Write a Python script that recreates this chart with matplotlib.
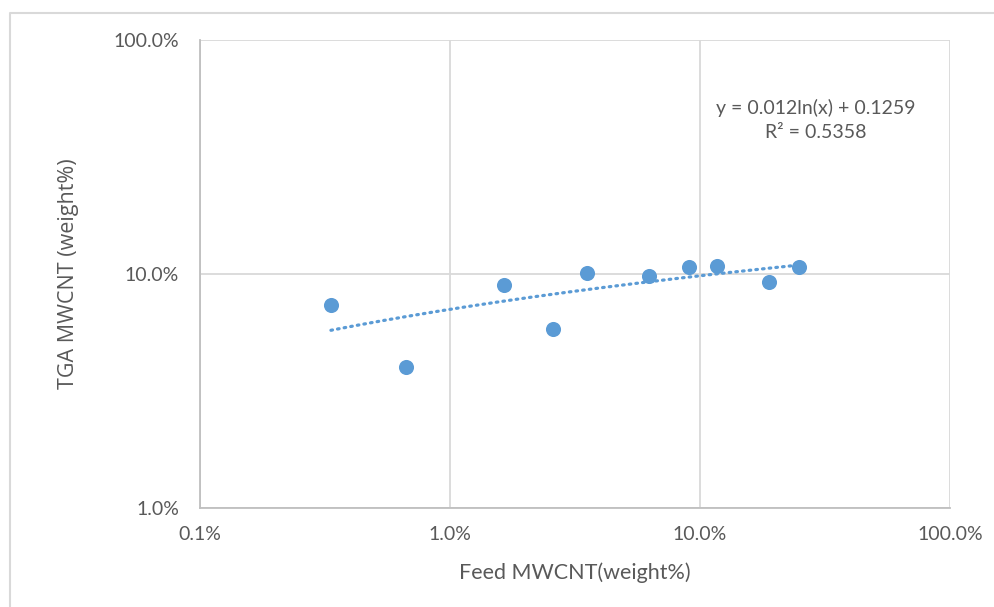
import numpy as np
import matplotlib
matplotlib.use("Agg")
import matplotlib.pyplot as plt
from matplotlib.lines import Line2D
from matplotlib.ticker import FuncFormatter, NullLocator

# data (fractions, shown as percent)
feed = [0.00334, 0.00667, 0.0164, 0.0258, 0.0353, 0.0625, 0.0904, 0.117, 0.189, 0.249]
tga = [0.0737, 0.0401, 0.0897, 0.0582, 0.101, 0.098, 0.107, 0.108, 0.0924, 0.107]

# logarithmic trendline as printed on the chart
trend_a = 0.012
trend_b = 0.1259
trend_r2 = 0.5358

blue = "#5B9BD5"
grey_text = "#595959"

fig = plt.figure(figsize=(9.95, 6.07), dpi=100)
ax = fig.add_axes([200 / 995, 1 - 508 / 607, 750 / 995, 468 / 607])

ax.set_xscale("log")
ax.set_yscale("log")
ax.set_xlim(0.001, 1)
ax.set_ylim(0.01, 1)

ax.scatter(feed, tga, s=118, color=blue, zorder=3, linewidths=0)

xs = np.geomspace(min(feed), max(feed), 200)
ax.plot(xs, trend_a * np.log(xs) + trend_b, color=blue, lw=2.3,
        linestyle=(0, (0.5, 1.6)), dash_capstyle="round", zorder=2)

pct = FuncFormatter(lambda v, p: "{:.1f}%".format(v * 100))
ax.xaxis.set_major_formatter(pct)
ax.yaxis.set_major_formatter(pct)
ax.xaxis.set_minor_locator(NullLocator())
ax.yaxis.set_minor_locator(NullLocator())
ax.set_xticks([0.001, 0.01, 0.1, 1])
ax.set_yticks([0.01, 0.1, 1])

ax.grid(True, color="#D9D9D9", lw=1.3)
ax.set_axisbelow(True)
for s in ["top", "right"]:
    ax.spines[s].set_visible(False)
for s in ["left", "bottom"]:
    ax.spines[s].set_color("#BFBFBF")
    ax.spines[s].set_linewidth(1.3)

ax.tick_params(length=0, labelsize=14, labelcolor=grey_text)
ax.tick_params(axis="x", pad=13)
ax.tick_params(axis="y", pad=15)
for lab in ax.get_xticklabels() + ax.get_yticklabels():
    lab.set_family("Lato")

ax.set_xlabel("Feed MWCNT(weight%)", family="Lato", fontsize=15.5,
              color=grey_text)
ax.set_ylabel("TGA MWCNT (weight%)", family="Open Sans", fontsize=15.5,
              color=grey_text)
ax.xaxis.set_label_coords(375 / 750, -(573 - 508) / 468)
ax.yaxis.set_label_coords(-(200 - 68) / 750, 0.5)
ax.xaxis.label.set_va("center")
ax.yaxis.label.set_va("center")

ax.text((816 - 200) / 750, 1 - (120 - 40) / 468,
        "y = {}ln(x) + {}\nR² = {}".format(trend_a, trend_b, trend_r2),
        transform=ax.transAxes, ha="center", va="center", family="Lato",
        fontsize=14, color=grey_text, linespacing=1.55)

# outer chart frame (partly cropped in the reference)
fig.add_artist(Line2D([9.5 / 995, 9.5 / 995, 1], [0, 1 - 13 / 607, 1 - 13 / 607],
                      transform=fig.transFigure, color="#D9D9D9", lw=1.5))

fig.savefig("out.png", dpi=100)
